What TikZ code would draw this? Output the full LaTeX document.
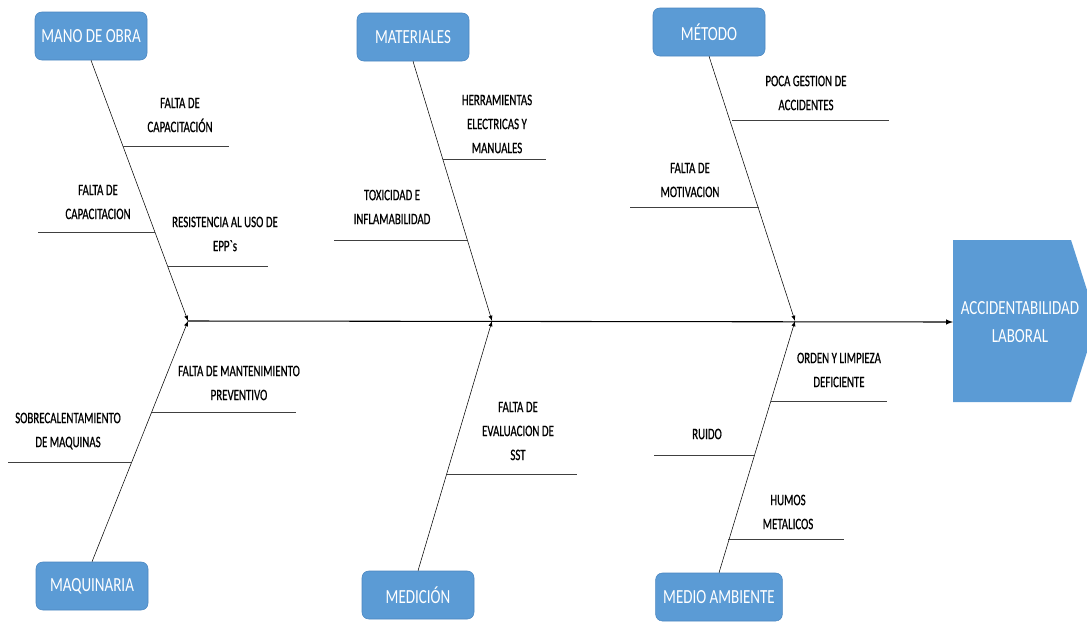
\documentclass[tikz,border=0pt]{standalone}
\usepackage{fontspec}
\setmainfont{Carlito}
\newfontfamily\lblfont[FakeStretch=0.75]{Carlito}
\newfontfamily\subfont[FakeStretch=0.68,FakeBold=0.6]{Carlito}
\usepackage{xcolor}
\usetikzlibrary{arrows}
\definecolor{boxblue}{HTML}{5B9BD5}
\definecolor{boxedge}{HTML}{4A86C0}

\begin{document}
\begin{tikzpicture}[x=0.75pt, y=-0.75pt, >=latex,
  cat/.style = {draw=boxedge, fill=boxblue, rounded corners=5pt, minimum width=84pt, minimum height=36pt, text=white, font=\lblfont\fontsize{15}{18}\selectfont},
  lbl/.style = {align=center, font=\subfont\fontsize{12}{18}\selectfont, inner sep=0pt},
  sub/.style = {draw=black!75, thin}]
\useasboundingbox (0,0) rectangle (1087,621);

% effect
\fill[boxblue] (953,240) -- (1071,240) -- (1087,290) -- (1087,352) -- (1071,402) -- (953,402) -- cycle;
\node[align=center, anchor=west, minimum width=100pt, inner sep=0pt, text=white, font=\lblfont\fontsize{15}{21}\selectfont] (acc) at (953,322) {ACCIDENTABILIDAD\\LABORAL};

% categories
\node[cat] (mo) at (91,36) {MANO DE OBRA};
\node[cat] (mat) at (413,37) {MATERIALES};
\node[cat] (met) at (709,32) {MÉTODO};
\node[cat] (maq) at (92,586) {MAQUINARIA};
\node[cat] (med) at (418,595) {MEDICIÓN};
\node[cat, minimum width=95pt] (amb) at (719,597) {MEDIO AMBIENTE};

% spine
\coordinate (j1) at (188,321);
\coordinate (j2) at (492,321);
\coordinate (j3) at (795,321);
\draw[->, thick] (j1) -- (acc.west);

\draw[->] (mo.south) -- (j1);
\draw[->] (mat.south) -- (j2);
\draw[->] (met.south) -- (j3);
\draw[->] (maq.north) -- (j1);
\draw[->] (med.north) -- (j2);
\draw[->] (amb.north) -- (j3);

% mano de obra
\coordinate (a1) at (123,146); \coordinate (a1e) at (229,146);
\coordinate (a2) at (155,232); \coordinate (a2e) at (38,232);
\coordinate (a3) at (168,266); \coordinate (a3e) at (268,266);
\draw[sub] (a1) -- (a1e);
\draw[sub] (a2) -- (a2e);
\draw[sub] (a3) -- (a3e);
\node[lbl] (t1) at (180,115) {FALTA DE\\CAPACITACIÓN};
\node[lbl] (t2) at (98,202) {FALTA DE\\CAPACITACION};
\node[lbl] (t3) at (225,234) {RESISTENCIA AL USO DE\\EPP`s};

% materiales
\coordinate (b1) at (443,159); \coordinate (b1e) at (546,159);
\coordinate (b2) at (467,240); \coordinate (b2e) at (334,240);
\draw[sub] (b1) -- (b1e);
\draw[sub] (b2) -- (b2e);
\node[lbl] (t4) at (497,124) {HERRAMIENTAS\\ELECTRICAS Y\\MANUALES};
\node[lbl] (t5) at (392,207) {TOXICIDAD E\\INFLAMABILIDAD};

% metodo
\coordinate (c1) at (732,120); \coordinate (c1e) at (889,120);
\coordinate (c2) at (759,207); \coordinate (c2e) at (630,207);
\draw[sub] (c1) -- (c1e);
\draw[sub] (c2) -- (c2e);
\node[lbl] (t6) at (806,93) {POCA GESTION DE\\ACCIDENTES};
\node[lbl] (t7) at (690,180) {FALTA DE\\MOTIVACION};

% maquinaria
\coordinate (d1) at (152,412); \coordinate (d1e) at (296,412);
\coordinate (d2) at (131,462); \coordinate (d2e) at (8,462);
\draw[sub] (d1) -- (d1e);
\draw[sub] (d2) -- (d2e);
\node[lbl] (t8) at (239,383) {FALTA DE MANTENIMIENTO\\PREVENTIVO};
\node[lbl] (t9) at (68,431) {SOBRECALENTAMIENTO\\DE MAQUINAS};

% medicion
\coordinate (e1) at (447,474); \coordinate (e1e) at (577,474);
\draw[sub] (e1) -- (e1e);
\node[lbl] (t10) at (518,431) {FALTA DE\\EVALUACION DE\\SST};

% medio ambiente
\coordinate (f1) at (771,401); \coordinate (f1e) at (887,401);
\coordinate (f2) at (754,455); \coordinate (f2e) at (654,455);
\coordinate (f3) at (728,539); \coordinate (f3e) at (844,539);
\draw[sub] (f1) -- (f1e);
\draw[sub] (f2) -- (f2e);
\draw[sub] (f3) -- (f3e);
\node[lbl] (t11) at (839,370) {ORDEN Y LIMPIEZA\\DEFICIENTE};
\node[lbl] (t12) at (707,434) {RUIDO};
\node[lbl] (t13) at (788,512) {HUMOS\\METALICOS};

\end{tikzpicture}
\end{document}
